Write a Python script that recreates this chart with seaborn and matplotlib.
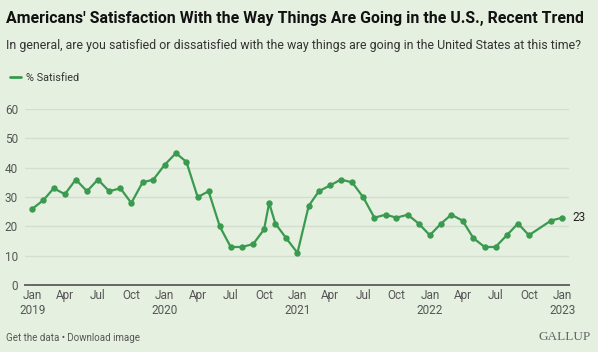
import pandas as pd
import matplotlib.pyplot as plt
from matplotlib.lines import Line2D
import seaborn as sns

# Poll dates and % satisfied
poll_dates = [
    '2019-01-01', '2019-02-01', '2019-03-01', '2019-04-01', '2019-05-01', '2019-06-01',
    '2019-07-01', '2019-08-01', '2019-09-01', '2019-10-01', '2019-11-01', '2019-12-01',
    '2020-01-01', '2020-02-01', '2020-03-01', '2020-04-01', '2020-05-01', '2020-06-01',
    '2020-07-01', '2020-08-01', '2020-09-01', '2020-10-01', '2020-10-15', '2020-11-01',
    '2020-12-01', '2021-01-01', '2021-02-01', '2021-03-01', '2021-04-01', '2021-05-01',
    '2021-06-01', '2021-07-01', '2021-08-01', '2021-09-01', '2021-10-01', '2021-11-01',
    '2021-12-01', '2022-01-01', '2022-02-01', '2022-03-01', '2022-04-01', '2022-05-01',
    '2022-06-01', '2022-07-01', '2022-08-01', '2022-09-01', '2022-10-01', '2022-12-01',
    '2023-01-01',
]
pct_satisfied = [
    26, 29, 33, 31, 36, 32,
    36, 32, 33, 28, 35, 36,
    41, 45, 42, 30, 32, 20,
    13, 13, 14, 19, 28, 21,
    16, 11, 27, 32, 34, 36,
    35, 30, 23, 24, 23, 24,
    21, 17, 21, 24, 22, 16,
    13, 13, 17, 21, 17, 22,
    23,
]
y_ticks = [0, 10, 20, 30, 40, 50, 60]

BG = '#e6f0e0'
GREEN = '#3a9a4f'
GRID = '#d3dece'

df = pd.DataFrame({'date': pd.to_datetime(poll_dates), 'satisfied': pct_satisfied})

sns.set_theme(style='white')
plt.rcParams['font.family'] = ['Roboto', 'DejaVu Sans']

fig = plt.figure(figsize=(5.98, 3.52), dpi=100, facecolor=BG)
ax = fig.add_axes([0.0418, 0.19, 0.91, 0.50])
ax.set_facecolor(BG)

sns.lineplot(data=df, x='date', y='satisfied', ax=ax, color=GREEN, linewidth=1.6,
             marker='o', markersize=4.6, markeredgewidth=0, clip_on=False, zorder=3)

# axes limits and ticks
ax.set_xlim(pd.Timestamp('2018-12-12'), pd.Timestamp('2023-01-20'))
ax.set_ylim(0, 60)
ax.set_yticks(y_ticks)
ax.yaxis.grid(True, color=GRID, linewidth=1)
ax.xaxis.grid(False)
for s in ['top', 'right', 'left']:
    ax.spines[s].set_visible(False)
ax.spines['bottom'].set_color('#666666')
ax.spines['bottom'].set_linewidth(1.4)

tick_dates = pd.date_range('2019-01-01', '2023-01-01', freq='3MS')
tick_labels = [d.strftime('%b') + ('\n' + str(d.year) if d.month == 1 else '') for d in tick_dates]
ax.set_xticks(tick_dates)
ax.set_xticklabels(tick_labels)
ax.tick_params(axis='both', length=0, labelsize=8.5, labelcolor='#555555')
ax.tick_params(axis='x', pad=3)
ax.tick_params(axis='y', pad=5)
ax.set_xlabel('')
ax.set_ylabel('')

# end label
ax.annotate(str(pct_satisfied[-1]), (df['date'].iloc[-1], pct_satisfied[-1]),
            xytext=(7, 0), textcoords='offset points', va='center', ha='left',
            fontsize=8.5, color='#222222', annotation_clip=False)

# titles
fig.text(0.01, 1 - 18 / 352, "Americans' Satisfaction With the Way Things Are Going in the U.S., Recent Trend",
         fontsize=11.4, fontweight='bold', color='#111111', va='center', ha='left')
fig.text(0.01, 1 - 45 / 352,
         'In general, are you satisfied or dissatisfied with the way things are going in the United States at this time?',
         fontsize=8.9, color='#333333', va='center', ha='left')

# legend
handle = Line2D([0], [0], color=GREEN, linewidth=2)
fig.legend([handle], ['% Satisfied'], loc='center left', bbox_to_anchor=(0.0, 1 - 78 / 352),
           frameon=False, fontsize=7.8, handlelength=1.0, handletextpad=0.5, labelcolor='#333333')

# footer
fig.text(0.01, 1 - 338 / 352, 'Get the data \u2022 Download image', fontsize=7,
         color='#555555', va='center', ha='left')
fig.text(0.988, 1 - 337 / 352, 'GALLUP', fontsize=9.5, family=['Liberation Serif', 'DejaVu Serif'],
         color='#666666', va='center', ha='right')

fig.savefig('out.png', dpi=100, facecolor=BG)
